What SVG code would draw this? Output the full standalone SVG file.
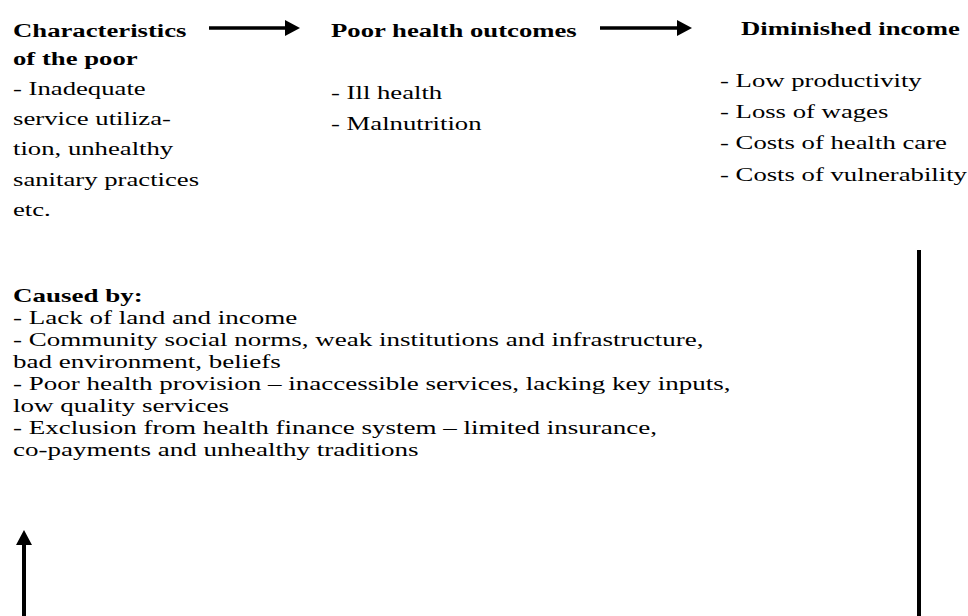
<svg xmlns="http://www.w3.org/2000/svg" width="968" height="616" viewBox="0 0 968 616">
<style>
  text { font-family: "Liberation Serif", "Times New Roman", serif; font-size: 19.5px; fill: #000; }
  .b { font-weight: bold; }
  .conn line { stroke: #000; stroke-width: 3.5; fill: none; }
  .conn .thick { stroke-width: 4; }
</style>
<defs>
  <marker id="ah" markerUnits="userSpaceOnUse" markerWidth="15" markerHeight="16" viewBox="0 0 15 16" refX="0" refY="8" orient="auto">
    <path d="M0,0 L15,8 L0,16 Z" fill="#000"/>
  </marker>
</defs>
<g id="node-characteristics">
  <text class="b" transform="translate(13,0) scale(1.37,1)"><tspan x="0" y="37">Characteristics</tspan><tspan x="0" y="65">of the poor</tspan></text>
  <text transform="translate(13,0) scale(1.37,1)"><tspan x="0" y="95">- Inadequate</tspan><tspan x="0" y="125">service utiliza-</tspan><tspan x="0" y="155">tion, unhealthy</tspan><tspan x="0" y="186">sanitary practices</tspan><tspan x="0" y="216">etc.</tspan></text>
</g>
<g id="node-outcomes">
  <text class="b" transform="translate(331,0) scale(1.37,1)"><tspan x="0" y="37">Poor health outcomes</tspan></text>
  <text transform="translate(331,0) scale(1.37,1)"><tspan x="0" y="99">- Ill health</tspan><tspan x="0" y="130">- Malnutrition</tspan></text>
</g>
<g id="node-income">
  <text class="b" transform="translate(741,0) scale(1.37,1)"><tspan x="0" y="35">Diminished income</tspan></text>
  <text transform="translate(720,0) scale(1.37,1)"><tspan x="0" y="87">- Low productivity</tspan><tspan x="0" y="118">- Loss of wages</tspan><tspan x="0" y="149">- Costs of health care</tspan><tspan x="0" y="181">- Costs of vulnerability</tspan></text>
</g>
<g id="node-causes">
  <text class="b" transform="translate(13,0) scale(1.385,1)"><tspan x="0" y="302">Caused by:</tspan></text>
  <text transform="translate(13,0) scale(1.385,1)"><tspan x="0" y="324">- Lack of land and income</tspan><tspan x="0" y="346">- Community social norms, weak institutions and infrastructure,</tspan><tspan x="0" y="368">bad environment, beliefs</tspan><tspan x="0" y="390">- Poor health provision – inaccessible services, lacking key inputs,</tspan><tspan x="0" y="412">low quality services</tspan><tspan x="0" y="434">- Exclusion from health finance system – limited insurance,</tspan><tspan x="0" y="456">co-payments and unhealthy traditions</tspan></text>
</g>
<g id="connectors" class="conn">
  <line x1="209" y1="28" x2="285" y2="28" marker-end="url(#ah)"/>
  <line x1="600" y1="28" x2="677" y2="28" marker-end="url(#ah)"/>
  <line class="thick" x1="919" y1="250" x2="919" y2="616"/>
  <line class="thick" x1="24" y1="616" x2="24" y2="545" marker-end="url(#ah)"/>
</g>
</svg>
